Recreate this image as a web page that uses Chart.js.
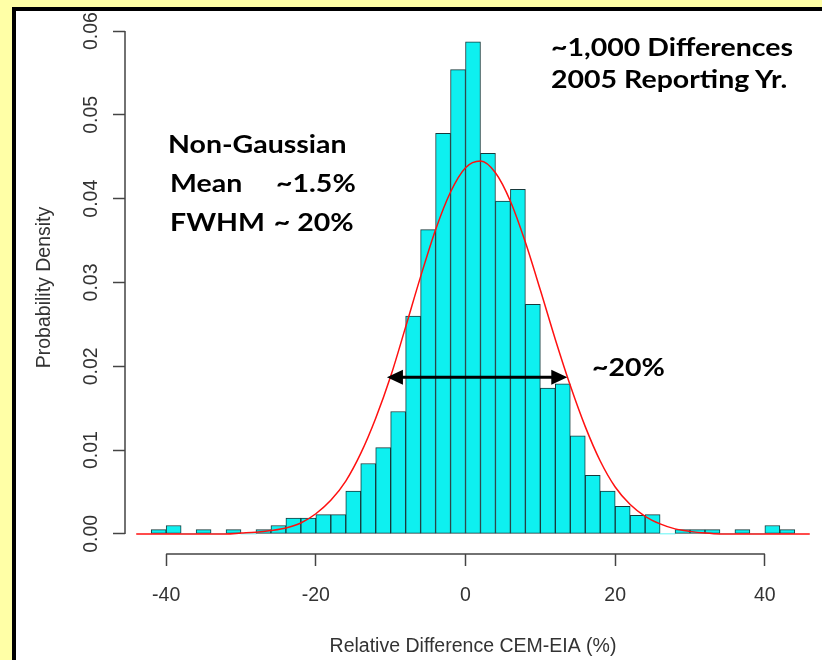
<!DOCTYPE html>
<html>
<head>
<meta charset="utf-8">
<script src="https://cdn.jsdelivr.net/npm/chart.js@4.4.1/dist/chart.umd.min.js"></script>
<style>
  html, body { margin: 0; padding: 0; }
  body { width: 822px; height: 660px; background: #FFFFA6; position: relative; overflow: hidden; }
  #panel { position: absolute; left: 12px; top: 7px; right: 0; bottom: 0; background: #fff;
           border-left: 4px solid #000; border-top: 4px solid #000; }
  #wrap { position: absolute; left: 0; top: 0; width: 822px; height: 660px; }
  .note { position: absolute; font-family: Lato, "Open Sans", sans-serif; font-weight: 700;
          font-size: 25px; line-height: 25px; color: #000; white-space: pre;
          transform: scaleX(1.14); transform-origin: left top; }
  .note span { position: absolute; top: 0; }
</style>
</head>
<body>
<div id="panel"></div>
<div id="wrap"><canvas id="hist" width="822" height="660"></canvas></div>

<div class="note" style="left:551px; top:34px;">~1,000 Differences</div>
<div class="note" style="left:551px; top:66px;">2005 Reporting Yr.</div>
<div class="note" style="left:168px; top:131px;">Non-Gaussian</div>
<div class="note" style="left:170px; top:170px;">Mean<span style="left:93px;">~1.5%</span></div>
<div class="note" style="left:170px; top:209px;">FWHM<span style="left:91px;">~ 20%</span></div>
<div class="note" style="left:592px; top:354px;">~20%</div>

<script>
// histogram bins (2% wide), centres and density
const binCenters = [-41, -39, -37, -35, -33, -31, -29, -27, -25, -23, -21, -19, -17, -15, -13, -11, -9, -7, -5, -3, -1,
  1, 3, 5, 7, 9, 11, 13, 15, 17, 19, 21, 23, 25, 27, 29, 31, 33, 35, 37, 39, 41, 43];
const density = [0.0005, 0.001, 0, 0.0005, 0, 0.0005, 0, 0.0005, 0.001, 0.0019, 0.0019, 0.0023, 0.0023, 0.0051, 0.0084, 0.0103, 0.0146, 0.026, 0.0363, 0.0478, 0.0554,
  0.0587, 0.0454, 0.0397, 0.0411, 0.0274, 0.0174, 0.0179, 0.0117, 0.007, 0.0051, 0.0033, 0.0022, 0.0023, 0, 0.0005, 0.0005, 0.0005, 0, 0.0005, 0, 0.001, 0.0005];

// red fitted curve
const curveX = [-44, -42, -40, -38, -36, -34, -32, -30, -28, -26, -24, -22, -20, -18, -16, -14, -12, -10, -8, -6, -4, -2,
  0, 2, 4, 6, 8, 10, 12, 14, 16, 18, 20, 22, 24, 26, 28, 30, 32, 34, 36, 38, 40, 42, 44, 46];
const curveY = [0, 0, 0, 0, 0, 0, 0, 0.0001, 0.0002, 0.0004, 0.0007, 0.0013, 0.0024, 0.004, 0.0063, 0.0096, 0.0138, 0.0188, 0.0247, 0.0307, 0.0363, 0.0408,
  0.0437, 0.0445, 0.0431, 0.0397, 0.0348, 0.0291, 0.0232, 0.0177, 0.0128, 0.0087, 0.0056, 0.0035, 0.0021, 0.0012, 0.0006, 0.0003, 0.0001, 0, 0, 0, 0, 0, 0, 0];

// FWHM arrow
const arrowX = [-10.5, 13.6];
const arrowY = 0.0187;

const xTicks = [-40, -20, 0, 20, 40];
const yTicks = [0, 0.01, 0.02, 0.03, 0.04, 0.05, 0.06];

const axisColor = '#444';
const textColor = '#333';
const axisFont = { family: '"Liberation Sans", Arial, sans-serif', size: 19.5 };

// R style axis lines, only from first to last tick
const rAxes = {
  id: 'rAxes',
  afterDraw(chart) {
    const { ctx, scales: { x, y } } = chart;
    ctx.save();
    ctx.strokeStyle = axisColor;
    ctx.lineWidth = 1.5;
    ctx.beginPath();
    ctx.moveTo(x.getPixelForValue(xTicks[0]), x.top);
    ctx.lineTo(x.getPixelForValue(xTicks[xTicks.length - 1]), x.top);
    ctx.moveTo(y.right, y.getPixelForValue(yTicks[0]));
    ctx.lineTo(y.right, y.getPixelForValue(yTicks[yTicks.length - 1]));
    ctx.stroke();
    ctx.restore();
  }
};

const fwhmArrow = {
  id: 'fwhmArrow',
  afterDatasetsDraw(chart) {
    const { ctx, scales: { x, y } } = chart;
    const x0 = x.getPixelForValue(arrowX[0]);
    const x1 = x.getPixelForValue(arrowX[1]);
    const yy = y.getPixelForValue(arrowY);
    const head = 16, half = 7.5;
    ctx.save();
    ctx.strokeStyle = '#000';
    ctx.fillStyle = '#000';
    ctx.lineWidth = 3;
    ctx.beginPath();
    ctx.moveTo(x0 + head - 2, yy);
    ctx.lineTo(x1 - head + 2, yy);
    ctx.stroke();
    ctx.beginPath();
    ctx.moveTo(x0, yy);
    ctx.lineTo(x0 + head, yy - half);
    ctx.lineTo(x0 + head, yy + half);
    ctx.closePath();
    ctx.moveTo(x1, yy);
    ctx.lineTo(x1 - head, yy - half);
    ctx.lineTo(x1 - head, yy + half);
    ctx.closePath();
    ctx.fill();
    ctx.restore();
  }
};

new Chart(document.getElementById('hist'), {
  type: 'bar',
  data: {
    datasets: [{
      type: 'line',
      data: curveX.map((v, i) => ({ x: v, y: curveY[i] })),
      borderColor: '#FF1010',
      borderWidth: 1.5,
      pointRadius: 0,
      cubicInterpolationMode: 'monotone',
      order: 0
    }, {
      type: 'bar',
      data: binCenters.map((v, i) => ({ x: v, y: density[i] })),
      backgroundColor: '#0EF0F0',
      borderColor: '#173a3c',
      borderWidth: c => (c.raw && c.raw.y > 0 ? 1 : 0),
      borderSkipped: false,
      barPercentage: 1,
      categoryPercentage: 1,
      grouped: false,
      order: 1
    }]
  },
  options: {
    responsive: false,
    animation: false,
    devicePixelRatio: 1,
    layout: { padding: { left: 0, right: 1, top: 21, bottom: 0 } },
    plugins: { legend: { display: false }, tooltip: { enabled: false } },
    scales: {
      x: {
        type: 'linear',
        min: -45.5,
        max: 47.5,
        offset: false,
        afterBuildTicks: s => { s.ticks = xTicks.map(v => ({ value: v })); },
        afterFit: s => { s.height = 106; },
        grid: { offset: false, drawOnChartArea: false, tickLength: 12, tickWidth: 1.5, tickColor: axisColor },
        border: { display: false },
        ticks: { autoSkip: false, maxRotation: 0, minRotation: 0, padding: 18, color: textColor, font: axisFont,
                 callback: v => String(v) },
        title: { display: true, text: 'Relative Difference CEM-EIA (%)', color: textColor, font: axisFont,
                 padding: { top: 0, bottom: 2 } }
      },
      y: {
        min: -0.0024,
        max: 0.0612,
        afterBuildTicks: s => { s.ticks = yTicks.map(v => ({ value: v })); },
        afterFit: s => { s.width = 125; },
        grid: { offset: false, drawOnChartArea: false, tickLength: 12, tickWidth: 1.5, tickColor: axisColor },
        border: { display: false },
        ticks: { autoSkip: false, minRotation: 90, maxRotation: 90, crossAlign: 'center', padding: 2,
                 color: textColor, font: axisFont, callback: v => v.toFixed(2) },
        title: { display: true, text: 'Probability Density', color: textColor, font: axisFont,
                 padding: { top: 33, bottom: 0 } }
      }
    }
  },
  plugins: [rAxes, fwhmArrow]
});
</script>
</body>
</html>
